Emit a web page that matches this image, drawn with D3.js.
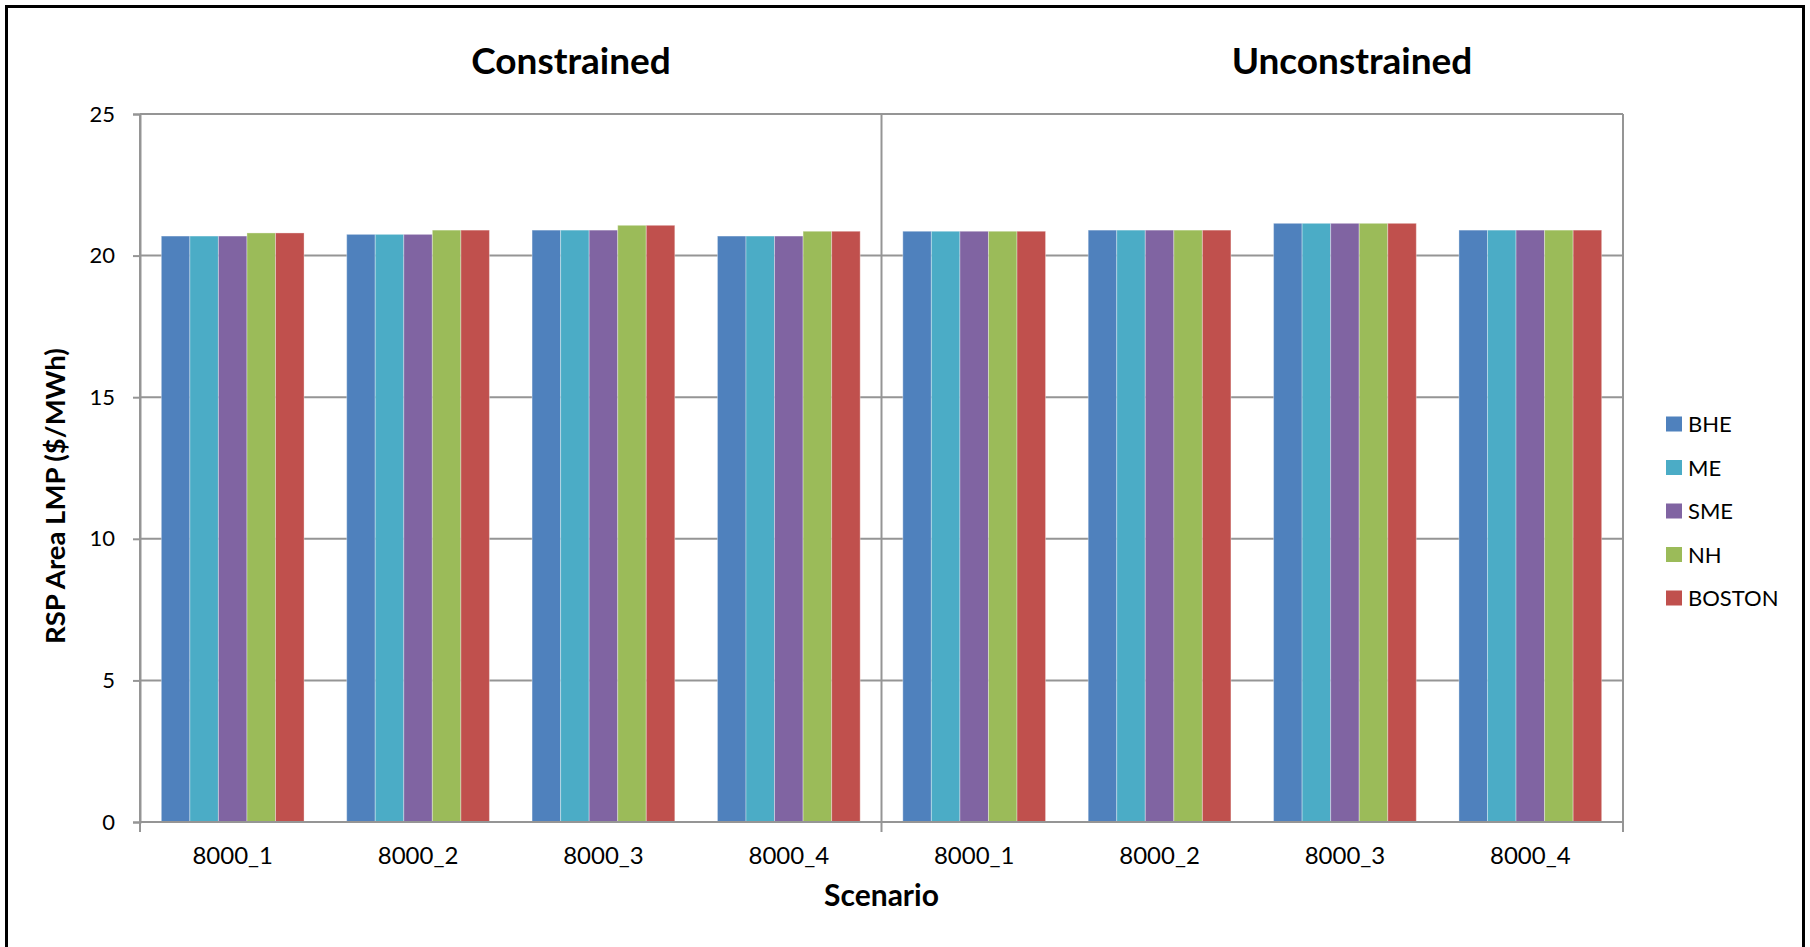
<!DOCTYPE html>
<html>
<head>
<meta charset="utf-8">
<script src="https://cdn.jsdelivr.net/npm/d3@7"></script>
<style>
  html, body { margin: 0; padding: 0; background: #fff; }
  svg { display: block; }
  text { font-family: Lato, "Open Sans", sans-serif; fill: #000; }
</style>
</head>
<body>
<svg id="chart" width="1810" height="947"></svg>
<script>
// Area LMP by scenario, constrained vs unconstrained transmission
const panels = ["Constrained", "Unconstrained"];
const scenarios = ["8000_1", "8000_2", "8000_3", "8000_4"];
const seriesNames = ["BHE", "ME", "SME", "NH", "BOSTON"];
const seriesColors = ["#4F81BD", "#4BACC6", "#8064A2", "#9BBB59", "#C0504D"];

// values per series: constrained 8000_1..4, then unconstrained 8000_1..4
const BHE    = [20.69, 20.75, 20.90, 20.69, 20.86, 20.90, 21.14, 20.90];
const ME     = [20.69, 20.75, 20.90, 20.69, 20.86, 20.90, 21.14, 20.90];
const SME    = [20.69, 20.75, 20.90, 20.69, 20.86, 20.90, 21.14, 20.90];
const NH     = [20.80, 20.90, 21.07, 20.86, 20.86, 20.90, 21.14, 20.90];
const BOSTON = [20.80, 20.90, 21.07, 20.86, 20.86, 20.90, 21.14, 20.90];
const seriesValues = [BHE, ME, SME, NH, BOSTON];

const yTicks = [0, 5, 10, 15, 20, 25];

const svg = d3.select("#chart");
const plotLeft = 140, plotRight = 1623, plotTop = 114, plotBottom = 822;

// outer frame
svg.append("rect")
  .attr("x", 6.5).attr("y", 6.5).attr("width", 1797).attr("height", 980)
  .attr("fill", "#fff").attr("stroke", "#000").attr("stroke-width", 3);

const categories = [];
panels.forEach(p => scenarios.forEach(s => categories.push(p + "|" + s)));

const x = d3.scaleBand().domain(categories).range([plotLeft, plotRight])
  .paddingInner(0.23).paddingOuter(0.115);
const xs = d3.scaleBand().domain(seriesNames).range([0, x.bandwidth()]);
const y = d3.scaleLinear().domain([0, 25]).range([plotBottom, plotTop]);

const grid = "#959595";

// horizontal gridlines
svg.append("g").selectAll("line").data(yTicks.filter(t => t > 0)).join("line")
  .attr("x1", plotLeft).attr("x2", plotRight)
  .attr("y1", d => y(d)).attr("y2", d => y(d))
  .attr("stroke", grid).attr("stroke-width", 2);

// y axis
const yAxis = svg.append("g").attr("transform", `translate(${plotLeft},0)`)
  .call(d3.axisLeft(y).tickValues(yTicks).tickSize(7).tickPadding(18));
yAxis.select(".domain").attr("stroke", grid).attr("stroke-width", 2);
yAxis.selectAll(".tick line").attr("stroke", grid).attr("stroke-width", 2);
yAxis.selectAll(".tick text").style("font-family", "Lato").style("font-size", "22px")
  .attr("fill", "#000");

// bars
const rows = [];
categories.forEach((c, ci) => seriesNames.forEach((s, si) =>
  rows.push({ cat: c, series: s, value: seriesValues[si][ci], color: seriesColors[si] })));

svg.append("g").selectAll("rect").data(rows).join("rect")
  .attr("x", d => x(d.cat) + xs(d.series))
  .attr("y", d => y(d.value))
  .attr("width", xs.bandwidth())
  .attr("height", d => y(0) - y(d.value))
  .attr("fill", d => d.color)
  .attr("stroke", "#ffffff").attr("stroke-opacity", 0.35).attr("stroke-width", 1);

// baseline, panel divider and frame ticks
svg.append("line").attr("x1", plotLeft).attr("x2", plotRight)
  .attr("y1", y(0)).attr("y2", y(0)).attr("stroke", grid).attr("stroke-width", 2);
const divX = [plotLeft, (x(categories[3]) + x.bandwidth() + x(categories[4])) / 2, plotRight];
svg.append("g").selectAll("line").data(divX).join("line")
  .attr("x1", d => d).attr("x2", d => d)
  .attr("y1", plotTop).attr("y2", plotBottom + 10)
  .attr("stroke", grid).attr("stroke-width", 2);

// category labels
svg.append("g").selectAll("text").data(categories).join("text")
  .attr("x", d => x(d) + x.bandwidth() / 2)
  .attr("y", 864)
  .attr("text-anchor", "middle")
  .style("font-size", "24px")
  .text(d => d.split("|")[1]);

// panel titles
const titleX = [571, 1352];
svg.append("g").selectAll("text").data(panels).join("text")
  .attr("x", (d, i) => titleX[i]).attr("y", 74)
  .attr("text-anchor", "middle")
  .style("font-size", "37px").style("font-weight", "bold")
  .text(d => d);

// axis titles
svg.append("text").attr("x", (plotLeft + plotRight) / 2).attr("y", 906)
  .attr("text-anchor", "middle")
  .style("font-size", "30px").style("font-weight", "bold")
  .text("Scenario");
svg.append("text")
  .attr("transform", "translate(65,496) rotate(-90)")
  .attr("text-anchor", "middle")
  .style("font-size", "27.5px").style("font-weight", "bold")
  .text("RSP Area LMP ($/MWh)");

// legend
const lg = svg.append("g").attr("transform", "translate(1666,424)");
const item = lg.selectAll("g").data(seriesNames).join("g")
  .attr("transform", (d, i) => `translate(0,${i * 43.5})`);
item.append("rect").attr("x", 0).attr("y", -7.5).attr("width", 16).attr("height", 15)
  .attr("fill", (d, i) => seriesColors[i]);
item.append("text").attr("x", 22).attr("y", 8)
  .style("font-size", "22px")
  .text(d => d);
</script>
</body>
</html>
